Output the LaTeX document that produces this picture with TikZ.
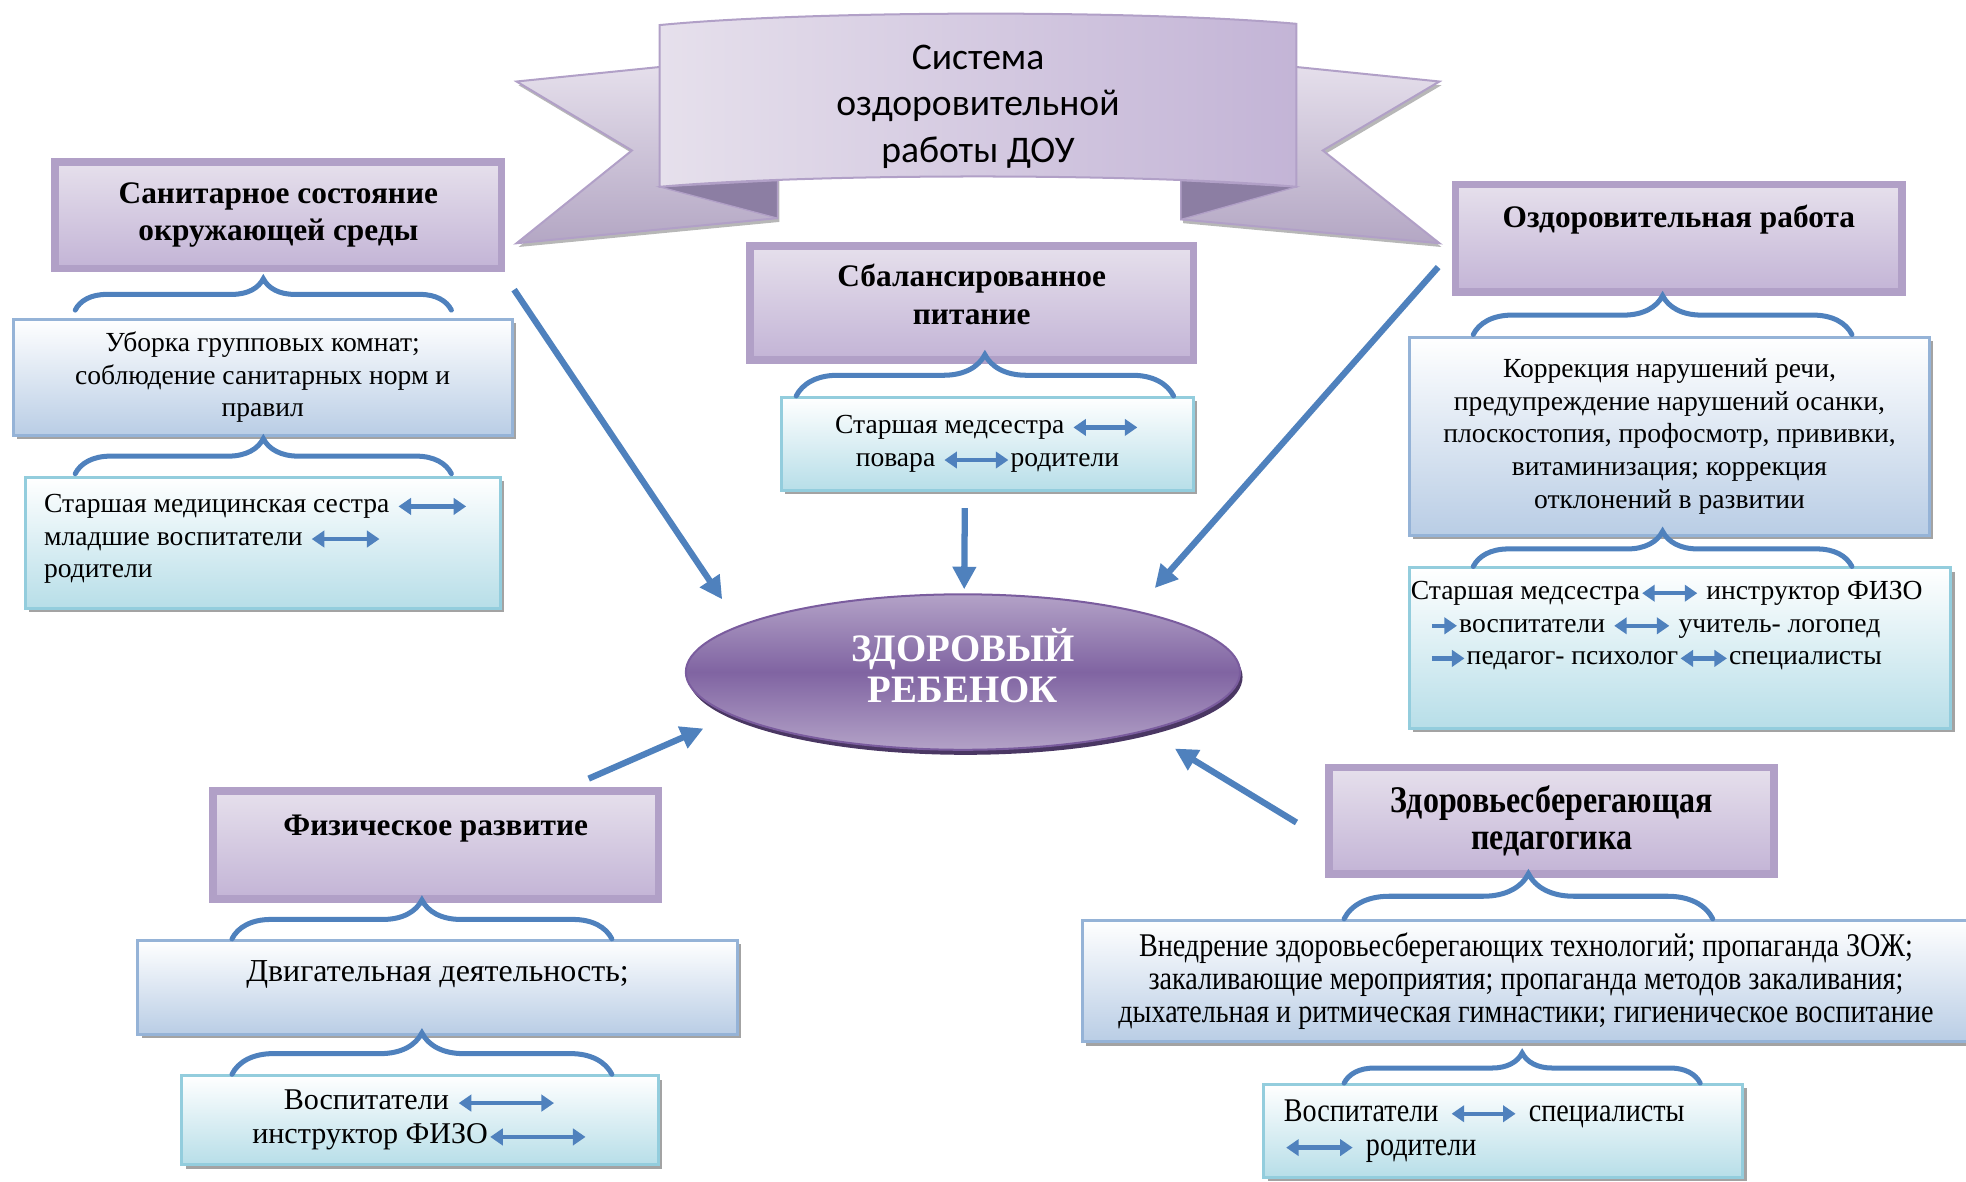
\documentclass[tikz,border=0pt]{standalone}
\usepackage{fontspec}
\setmainfont{Liberation Serif}
\newfontfamily\capfont{Carlito}
\newfontfamily\slimfont[FakeStretch=0.85]{Liberation Serif}
\usetikzlibrary{calc,arrows.meta,shapes.geometric,positioning,decorations.pathreplacing,shadows}

\definecolor{linkblue}{HTML}{4F81BD}
\definecolor{lavframe}{HTML}{B1A0C7}
\definecolor{lavlight}{HTML}{E6E0EC}
\definecolor{lavdark}{HTML}{C3B4D6}
\definecolor{blueframe}{HTML}{95B3D7}
\definecolor{bluefill}{HTML}{B9CDE5}
\definecolor{aquaframe}{HTML}{93CDDD}
\definecolor{aquafill}{HTML}{B7DEE8}
\definecolor{kidmid}{HTML}{8064A2}
\definecolor{kidedge}{HTML}{B3A2C7}
\definecolor{kidrim}{HTML}{7A5C9E}
\definecolor{kidshade}{HTML}{4A3763}
\definecolor{folddark}{HTML}{8C7EA3}

\newcommand{\headsize}{\fontsize{12.5}{15}\selectfont}
\newcommand{\bodysize}{\fontsize{11}{13}\selectfont}
\newcommand{\dblarr}[1]{\tikz[baseline=-0.5ex]\draw[inarrow,{Triangle[length=5pt,width=6.5pt]}-{Triangle[length=5pt,width=6.5pt]}] (0,0) -- (#1,0);}
\newcommand{\sglarr}[1]{\tikz[baseline=-0.5ex]\draw[inarrow,-{Triangle[length=5pt,width=6.5pt]}] (0,0) -- (#1,0);}

\tikzset{
    headbox/.style={
    rectangle,draw=lavframe,line width=3pt,top color=lavlight,bottom color=lavdark,
    drop shadow={shadow xshift=1.5pt,shadow yshift=-1.5pt,fill=black!45,opacity=.8},
    inner sep=0pt,font=\headsize\bfseries,align=center
    },
    midbox/.style={
    rectangle,draw=blueframe,line width=1.2pt,top color=white,bottom color=bluefill,
    drop shadow={shadow xshift=1.5pt,shadow yshift=-1.5pt,fill=black!45,opacity=.8},
    inner sep=0pt,font=\bodysize,align=center
    },
    lowbox/.style={
    rectangle,draw=aquaframe,line width=1.2pt,top color=white,bottom color=aquafill,
    drop shadow={shadow xshift=1.5pt,shadow yshift=-1.5pt,fill=black!45,opacity=.8},
    inner sep=0pt,font=\bodysize,align=center
    },
    kidshape/.style={
    ellipse,draw=kidrim,line width=0.8pt,top color=kidedge,bottom color=kidedge,middle color=kidmid,
    drop shadow={shadow xshift=1pt,shadow yshift=-2pt,fill=kidshade,opacity=1},
    inner sep=0pt
    },
    bannerpart/.style={
    draw=lavframe,line width=0.8pt,top color=lavlight,bottom color=lavdark!90!black!95,
    drop shadow={shadow xshift=0.8pt,shadow yshift=-1.5pt,fill=black!40,opacity=.7}
    },
    bannerfold/.style={fill=folddark,draw=lavframe,line width=0.5pt},
    curly/.style={
    draw=linkblue,line width=2pt,line cap=round,decorate,decoration={brace,amplitude=#1}
    },
    link/.style={
    draw=linkblue,line width=2.5pt,-{Triangle[length=9pt,width=9pt]}
    },
    inarrow/.style={draw=linkblue,line width=1.8pt},
}

\begin{document}
\begin{tikzpicture}[x=0.5pt,y=-0.5pt]
   \useasboundingbox (0,0) rectangle (1568,942);

   % ribbon with the title
   \path[bannerpart] (560,50) -- (412,65) -- (504,120) -- (412,194) -- (620,174) -- (620,140) -- (560,140) -- cycle;
   \path[bannerpart] (1000,50) -- (1148,65) -- (1055,120) -- (1148,194) -- (942,175) -- (942,140) -- (1000,140) -- cycle;
   \path[bannerfold] (526,149) -- (620,144) -- (620,174) -- cycle;
   \path[bannerfold] (1034,149) -- (942,144) -- (942,175) -- cycle;
   \path[draw=lavframe,line width=0.8pt,left color=lavlight,right color=lavdark]
     (526,20) .. controls (650,8) and (910,8) .. (1034,19) -- (1034,149)
     .. controls (910,138) and (650,138) .. (526,149) -- cycle;
   \node[font=\capfont\fontsize{15}{18.5}\selectfont,align=center] (title) at (780,85) {Система\\оздоровительной\\работы ДОУ};

   % left column
   \node[headbox,minimum width=178pt,minimum height=42.5pt] (san) at (222,171.5) {Санитарное состояние\\окружающей среды};
   \node[midbox,minimum width=199pt,minimum height=46.5pt] (ubor) at (209.5,301) {Уборка групповых комнат;\\соблюдение санитарных норм и\\правил};
   \node[lowbox,minimum width=189.5pt,minimum height=52pt] (sanlow) at (209.5,433) {};
   \node[font=\bodysize,align=left,anchor=west,inner sep=0pt] (sanlowT) at ([xshift=8pt,yshift=1.5pt]sanlow.west)
     {Старшая медицинская сестра \dblarr{27pt}\\младшие воспитатели \dblarr{27pt}\\родители};

   % middle column
   \node[headbox,minimum width=177pt,minimum height=45.5pt] (pit) at (775,241.5) {};
   \node[font=\headsize\bfseries,align=center] (pitT) at ([yshift=-21pt]pit.north) {Сбалансированное\\питание};
   \node[lowbox,minimum width=164.5pt,minimum height=37pt] (pitlow) at (787.5,354) {Старшая медсестра \dblarr{25.5pt}\\повара \dblarr{25.5pt}родители};

   % right column
   \node[headbox,minimum width=178pt,minimum height=43pt] (ozd) at (1339,190) {};
   \node[font=\headsize\bfseries] (ozdT) at ([yshift=-15.5pt]ozd.north) {Оздоровительная работа};
   \node[midbox,minimum width=207.5pt,minimum height=79pt] (korr) at (1331.5,348)
     {Коррекция нарушений речи,\\предупреждение нарушений осанки,\\плоскостопия, профосмотр, прививки,\\витаминизация; коррекция\\отклонений в развитии};
   \node[lowbox,minimum width=216pt,minimum height=64pt] (ozdlow) at (1340,517) {};
   \node[font=\bodysize,align=left,anchor=west,inner sep=0pt] (ozdlowT) at ([xshift=1pt,yshift=9pt]ozdlow.west)
     {Старшая медсестра\dblarr{22pt} инструктор ФИЗО\\\hspace*{7.5pt}\sglarr{10pt}воспитатели \dblarr{22pt} учитель- логопед\\\hspace*{7.5pt}\sglarr{13pt}педагог- психолог\dblarr{18.5pt}специалисты};

   % bottom left
   \node[headbox,minimum width=177.5pt,minimum height=43pt] (fiz) at (347.5,674) {};
   \node[font=\headsize\bfseries] (fizT) at ([yshift=-16.5pt]fiz.north) {Физическое развитие};
   \node[midbox,minimum width=239pt,minimum height=37.5pt] (dvig) at (349,787.5) {};
   \node[font=\fontsize{12.75}{14}\selectfont] (dvigT) at ([yshift=-14pt]dvig.north) {Двигательная деятельность;};
   \node[lowbox,minimum width=190pt,minimum height=35.5pt,font=\fontsize{12}{13.5}\selectfont] (fizlow) at (335,893.5)
     {Воспитатели \dblarr{38pt}\\инструктор ФИЗО\dblarr{38pt}};

   % bottom right
   \node[headbox,minimum width=177.5pt,minimum height=42.5pt,font=\slimfont\bfseries\fontsize{15}{15}\selectfont] (ped) at (1237.5,654.5)
     {Здоровьесберегающая\\педагогика};
   \node[midbox,minimum width=354pt,minimum height=48.5pt,font=\slimfont\fontsize{13.2}{13}\selectfont] (vned) at (1217,782.5)
     {Внедрение здоровьесберегающих технологий; пропаганда ЗОЖ;\\закаливающие мероприятия; пропаганда методов закаливания;\\дыхательная и ритмическая гимнастики; гигиеническое воспитание};
   \node[lowbox,text width=175pt,inner xsep=8pt,minimum height=37pt,align=left,font=\slimfont\fontsize{13.2}{13.5}\selectfont] (pedlow) at (1199,902)
     {Воспитатели \dblarr{25.5pt} специалисты\\\dblarr{26.5pt} родители};

   % braces
   \draw[curly=12.5pt] ($(ubor.north)+(-149.5,-6)$) -- ($(ubor.north)+(150.5,-6)$);
   \draw[curly=14pt] ($(sanlow.north)+(-149.5,-2)$) -- ($(sanlow.north)+(150.5,-2)$);
   \draw[curly=16.5pt] ($(pitlow.north)+(-152.5,0)$) -- ($(pitlow.north)+(148.5,0)$);
   \draw[curly=15.5pt] ($(korr.north)+(-156.5,-1)$) -- ($(korr.north)+(145.5,-1)$);
   \draw[curly=14pt] ($(ozdlow.north)+(-165,0)$) -- ($(ozdlow.north)+(137,0)$);
   \draw[curly=15.5pt] ($(dvig.north)+(-164,0)$) -- ($(dvig.north)+(139,0)$);
   \draw[curly=16.5pt] ($(fizlow.north)+(-150,0)$) -- ($(fizlow.north)+(153,0)$);
   \draw[curly=18pt] ($(vned.north)+(-145,0)$) -- ($(vned.north)+(149,0)$);
   \draw[curly=12pt] ($(pedlow.north)+(-127,0)$) -- ($(pedlow.north)+(157,0)$);

   % the child
   \node[kidshape,minimum width=221pt,minimum height=62pt] (kid) at (768,536) {};
   \node[text=white,align=center,font=\bfseries\fontsize{15.5}{16.5}\selectfont] (kidT) at ([yshift=2.5pt]kid.center) {ЗДОРОВЫЙ\\РЕБЕНОК};

   \draw[link] ($(san.south east)+(7,14)$) -- ($(kid.center)+(-192,-58)$);
   \draw[link] ($(pitlow.south)+(-18,13)$) -- ($(kid.center)+(1,-66)$);
   \draw[link] ($(ozd.west)+(-11,23)$) -- ($(kid.center)+(153,-67)$);
   \draw[link] ($(fiz.north)+(122,-7)$) -- ($(kid.center)+(-207,45)$);
   \draw[link] ($(ped.west)+(-23,1.5)$) -- ($(kid.center)+(169,61)$);
\end{tikzpicture}
\end{document}
